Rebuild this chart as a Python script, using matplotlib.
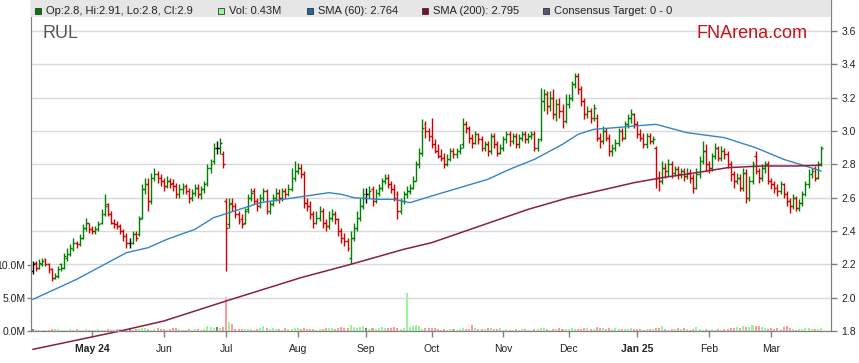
import matplotlib
matplotlib.use('Agg')
import matplotlib.pyplot as plt
from matplotlib.patches import Rectangle
import numpy as np
import pandas as pd

plt.rcParams['font.family'] = ['Liberation Sans', 'DejaVu Sans']

# RUL daily bars, one line per month (Apr 2024 .. Mar 2025)
opens = [
    2.16, 2.21, 2.18, 2.20, 2.23, 2.20, 2.17, 2.12, 2.13, 2.20, 2.18, 2.24, 2.26, 2.29, 2.33, 2.32, 2.36, 2.42, 2.45,
    2.41, 2.40, 2.41, 2.45, 2.50, 2.56, 2.50, 2.45, 2.44, 2.43, 2.40, 2.37, 2.33, 2.33, 2.38, 2.38, 2.48, 2.65, 2.68, 2.58, 2.72, 2.74, 2.72,
    2.70, 2.67, 2.70, 2.69, 2.67, 2.62, 2.65, 2.67, 2.64, 2.60, 2.63, 2.66, 2.62, 2.65, 2.69, 2.78, 2.82, 2.90, 2.90, 2.86,
    2.58, 2.44, 2.57, 2.55, 2.50, 2.47, 2.45, 2.53, 2.60, 2.64, 2.58, 2.55, 2.60, 2.64, 2.52, 2.56, 2.60, 2.63, 2.60, 2.64, 2.62, 2.65, 2.72,
    2.76, 2.78, 2.74, 2.57, 2.55, 2.50, 2.45, 2.48, 2.52, 2.45, 2.43, 2.48, 2.50, 2.47, 2.40, 2.36, 2.34, 2.24, 2.36, 2.42, 2.48, 2.55,
    2.60, 2.62, 2.65, 2.58, 2.63, 2.66, 2.70, 2.72, 2.68, 2.65, 2.62, 2.52, 2.58, 2.62, 2.64, 2.66, 2.70, 2.80, 2.87, 3.04, 3.00,
    2.97, 2.92, 2.88, 2.85, 2.84, 2.80, 2.83, 2.88, 2.86, 2.88, 2.92, 3.04, 3.02, 2.96, 2.93, 2.98, 2.95, 2.90, 2.92, 2.88, 2.97, 2.92, 2.87,
    2.90, 2.95, 2.98, 2.94, 2.97, 2.92, 2.96, 2.98, 2.95, 2.97, 2.98, 2.90, 2.95, 3.18, 3.22, 3.15, 3.20, 3.10, 3.16, 3.12, 3.06,
    3.16, 3.20, 3.28, 3.33, 3.25, 3.18, 3.10, 3.12, 3.08, 3.08, 2.96, 2.94, 3.00, 2.96, 2.88, 2.90, 2.93, 3.00, 2.96, 3.04, 3.08, 3.10,
    3.04, 2.98, 2.96, 2.92, 2.97, 2.94, 2.90, 2.72, 2.70, 2.78, 2.76, 2.80, 2.75, 2.77, 2.74, 2.76, 2.73, 2.75, 2.72, 2.66, 2.74, 2.82, 2.88,
    2.80, 2.78, 2.85, 2.90, 2.84, 2.88, 2.86, 2.80, 2.74, 2.70, 2.72, 2.66, 2.75, 2.60, 2.70, 2.85, 2.76, 2.72, 2.78, 2.80,
    2.70, 2.68, 2.66, 2.64, 2.68, 2.62, 2.58, 2.55, 2.60, 2.54, 2.57, 2.62, 2.68, 2.74, 2.78, 2.72, 2.80,
]
highs = [
    2.22, 2.22, 2.23, 2.24, 2.24, 2.21, 2.18, 2.15, 2.19, 2.21, 2.27, 2.30, 2.32, 2.36, 2.34, 2.38, 2.44, 2.48, 2.45,
    2.43, 2.43, 2.46, 2.53, 2.62, 2.57, 2.52, 2.47, 2.46, 2.44, 2.41, 2.39, 2.36, 2.40, 2.40, 2.49, 2.68, 2.72, 2.72, 2.75, 2.78, 2.76, 2.74,
    2.72, 2.73, 2.72, 2.71, 2.69, 2.68, 2.69, 2.68, 2.66, 2.65, 2.68, 2.68, 2.67, 2.70, 2.80, 2.83, 2.93, 2.94, 2.96, 2.88,
    2.60, 2.60, 2.60, 2.57, 2.52, 2.50, 2.54, 2.62, 2.66, 2.66, 2.60, 2.62, 2.66, 2.65, 2.58, 2.62, 2.66, 2.65, 2.66, 2.66, 2.68, 2.78, 2.82,
    2.81, 2.80, 2.76, 2.60, 2.58, 2.52, 2.52, 2.55, 2.54, 2.47, 2.52, 2.53, 2.52, 2.48, 2.42, 2.39, 2.36, 2.40, 2.45, 2.52, 2.60, 2.66,
    2.66, 2.67, 2.67, 2.65, 2.68, 2.72, 2.74, 2.74, 2.70, 2.68, 2.64, 2.60, 2.64, 2.67, 2.68, 2.73, 2.82, 2.90, 3.07, 3.06, 3.02,
    3.08, 2.95, 2.92, 2.89, 2.87, 2.86, 2.90, 2.90, 2.90, 2.92, 3.08, 3.06, 3.03, 2.98, 3.00, 2.99, 2.97, 2.94, 2.94, 2.99, 2.99, 2.94, 2.92,
    2.97, 3.00, 3.00, 2.99, 2.99, 2.98, 3.00, 3.00, 2.99, 3.00, 3.00, 2.96, 3.26, 3.25, 3.24, 3.24, 3.25, 3.19, 3.20, 3.16, 3.22,
    3.22, 3.30, 3.35, 3.35, 3.27, 3.20, 3.15, 3.14, 3.16, 3.10, 2.99, 3.03, 3.02, 2.98, 2.92, 2.95, 3.02, 3.02, 3.06, 3.10, 3.13, 3.11,
    3.06, 3.01, 2.99, 2.99, 2.99, 2.97, 2.91, 2.76, 2.82, 2.81, 2.83, 2.82, 2.79, 2.79, 2.78, 2.78, 2.78, 2.77, 2.74, 2.78, 2.85, 2.94, 2.92,
    2.82, 2.87, 2.93, 2.91, 2.91, 2.90, 2.88, 2.82, 2.76, 2.75, 2.74, 2.78, 2.77, 2.73, 2.82, 2.88, 2.78, 2.80, 2.82, 2.82,
    2.72, 2.70, 2.68, 2.70, 2.69, 2.64, 2.60, 2.62, 2.61, 2.59, 2.64, 2.70, 2.77, 2.78, 2.79, 2.82, 2.91,
]
lows = [
    2.14, 2.16, 2.17, 2.19, 2.19, 2.15, 2.10, 2.11, 2.12, 2.16, 2.17, 2.22, 2.25, 2.28, 2.30, 2.31, 2.35, 2.40, 2.39,
    2.38, 2.38, 2.40, 2.44, 2.49, 2.49, 2.44, 2.42, 2.41, 2.38, 2.34, 2.30, 2.30, 2.32, 2.34, 2.37, 2.47, 2.62, 2.52, 2.56, 2.70, 2.69, 2.67,
    2.64, 2.66, 2.66, 2.64, 2.60, 2.60, 2.62, 2.62, 2.57, 2.58, 2.61, 2.60, 2.59, 2.63, 2.67, 2.75, 2.80, 2.86, 2.86, 2.78,
    2.16, 2.42, 2.52, 2.48, 2.44, 2.42, 2.44, 2.51, 2.58, 2.56, 2.52, 2.54, 2.58, 2.50, 2.50, 2.55, 2.58, 2.57, 2.58, 2.60, 2.61, 2.64, 2.70,
    2.74, 2.72, 2.54, 2.52, 2.47, 2.42, 2.44, 2.46, 2.42, 2.40, 2.41, 2.46, 2.44, 2.37, 2.33, 2.31, 2.28, 2.20, 2.34, 2.40, 2.46, 2.53,
    2.57, 2.60, 2.55, 2.57, 2.61, 2.64, 2.68, 2.66, 2.63, 2.58, 2.47, 2.50, 2.56, 2.60, 2.62, 2.65, 2.70, 2.78, 2.85, 2.96, 2.94,
    2.90, 2.87, 2.84, 2.82, 2.78, 2.79, 2.82, 2.84, 2.84, 2.86, 2.90, 2.99, 2.93, 2.90, 2.92, 2.92, 2.88, 2.88, 2.85, 2.86, 2.90, 2.85, 2.86,
    2.88, 2.93, 2.91, 2.92, 2.90, 2.90, 2.94, 2.93, 2.93, 2.95, 2.88, 2.88, 2.94, 3.12, 3.10, 3.12, 3.07, 3.06, 3.08, 3.02, 3.05,
    3.14, 3.18, 3.26, 3.22, 3.15, 3.07, 3.08, 3.05, 3.06, 2.94, 2.90, 2.92, 2.94, 2.85, 2.85, 2.88, 2.91, 2.94, 2.95, 3.02, 3.05, 3.02,
    2.96, 2.94, 2.90, 2.90, 2.92, 2.92, 2.66, 2.64, 2.68, 2.72, 2.73, 2.72, 2.73, 2.71, 2.72, 2.70, 2.71, 2.69, 2.63, 2.65, 2.72, 2.80, 2.76,
    2.75, 2.76, 2.83, 2.82, 2.82, 2.83, 2.78, 2.70, 2.66, 2.68, 2.64, 2.64, 2.57, 2.58, 2.68, 2.74, 2.69, 2.70, 2.75, 2.68,
    2.65, 2.63, 2.61, 2.62, 2.60, 2.55, 2.51, 2.53, 2.52, 2.52, 2.55, 2.61, 2.66, 2.72, 2.70, 2.71, 2.79,
]
closes = [
    2.20, 2.18, 2.21, 2.22, 2.20, 2.17, 2.12, 2.13, 2.17, 2.18, 2.25, 2.26, 2.30, 2.33, 2.32, 2.36, 2.42, 2.45, 2.41,
    2.40, 2.41, 2.44, 2.50, 2.55, 2.50, 2.45, 2.44, 2.43, 2.40, 2.37, 2.33, 2.33, 2.38, 2.36, 2.47, 2.65, 2.68, 2.58, 2.72, 2.74, 2.72, 2.70,
    2.67, 2.70, 2.68, 2.67, 2.62, 2.65, 2.66, 2.64, 2.60, 2.63, 2.66, 2.62, 2.65, 2.68, 2.78, 2.80, 2.90, 2.90, 2.93, 2.80,
    2.42, 2.56, 2.55, 2.50, 2.46, 2.44, 2.52, 2.60, 2.63, 2.58, 2.55, 2.60, 2.64, 2.52, 2.56, 2.60, 2.63, 2.60, 2.64, 2.62, 2.65, 2.72, 2.76,
    2.78, 2.74, 2.57, 2.55, 2.50, 2.45, 2.48, 2.52, 2.45, 2.43, 2.48, 2.50, 2.47, 2.40, 2.36, 2.34, 2.30, 2.36, 2.42, 2.48, 2.55, 2.62,
    2.62, 2.64, 2.58, 2.63, 2.66, 2.70, 2.72, 2.68, 2.65, 2.60, 2.52, 2.58, 2.62, 2.64, 2.66, 2.70, 2.80, 2.87, 3.02, 3.00, 2.97,
    2.92, 2.88, 2.85, 2.84, 2.80, 2.83, 2.88, 2.86, 2.88, 2.90, 3.04, 3.02, 2.96, 2.93, 2.98, 2.95, 2.90, 2.92, 2.88, 2.97, 2.92, 2.87, 2.90,
    2.95, 2.98, 2.94, 2.97, 2.92, 2.96, 2.98, 2.95, 2.97, 2.98, 2.90, 2.94, 3.18, 3.22, 3.15, 3.20, 3.10, 3.16, 3.12, 3.06, 3.16,
    3.20, 3.28, 3.33, 3.25, 3.18, 3.10, 3.12, 3.08, 3.14, 2.96, 2.94, 3.00, 2.96, 2.88, 2.90, 2.93, 3.00, 2.96, 3.04, 3.08, 3.10, 3.04,
    2.98, 2.96, 2.92, 2.97, 2.94, 2.95, 2.72, 2.70, 2.78, 2.76, 2.80, 2.75, 2.77, 2.74, 2.76, 2.73, 2.75, 2.72, 2.66, 2.74, 2.82, 2.88, 2.80,
    2.78, 2.85, 2.90, 2.84, 2.88, 2.86, 2.80, 2.74, 2.70, 2.72, 2.66, 2.75, 2.60, 2.70, 2.80, 2.76, 2.72, 2.78, 2.80, 2.70,
    2.68, 2.66, 2.64, 2.68, 2.62, 2.58, 2.55, 2.60, 2.54, 2.57, 2.62, 2.68, 2.74, 2.76, 2.72, 2.80, 2.90,
]
# volume in millions
volume = [
    0.25, 0.15, 0.2, 0.15, 0.2, 0.15, 0.3, 0.35, 0.3, 0.15, 0.2, 0.15, 0.35, 0.2, 0.25, 0.2, 0.15, 0.3, 0.2,
    0.2, 0.15, 0.3, 0.2, 0.15, 0.25, 0.2, 0.15, 0.3, 0.25, 0.2, 0.3, 0.25, 0.2, 0.3, 0.35, 0.5, 0.45, 0.3, 0.2, 0.25, 0.4, 0.35,
    0.3, 0.2, 0.25, 0.5, 0.4, 0.3, 0.2, 0.15, 0.25, 0.2, 0.3, 0.25, 0.2, 0.3, 0.75, 0.6, 0.5, 0.55, 0.45, 0.6,
    5.1, 1.4, 1.1, 0.3, 0.3, 0.35, 0.3, 0.25, 0.3, 0.2, 0.3, 0.45, 0.8, 0.5, 0.3, 0.4, 0.25, 0.3, 0.2, 0.5, 0.35, 0.3, 0.45,
    0.4, 0.3, 0.5, 0.3, 0.25, 0.3, 0.2, 0.35, 0.3, 0.4, 0.5, 0.4, 0.3, 0.5, 0.6, 0.5, 0.4, 0.9, 0.6, 0.5, 0.6, 0.7,
    0.5, 0.3, 0.4, 0.3, 0.4, 0.6, 0.5, 0.5, 0.4, 0.6, 0.5, 0.35, 0.5, 5.7, 0.6, 0.8, 0.9, 0.8, 0.3, 0.5, 0.45,
    0.45, 0.5, 0.3, 0.2, 0.3, 0.2, 0.35, 0.3, 0.2, 0.25, 0.4, 0.35, 0.3, 0.9, 0.4, 0.3, 0.35, 0.3, 0.4, 0.45, 0.3, 0.3, 0.4,
    0.2, 0.3, 0.2, 0.15, 0.25, 0.2, 0.3, 0.25, 0.2, 0.2, 0.3, 0.25, 0.45, 0.4, 0.3, 0.2, 0.3, 0.25, 0.4, 0.35, 0.3,
    0.3, 0.45, 0.3, 0.35, 0.25, 0.4, 0.45, 0.3, 0.35, 0.65, 0.5, 0.4, 0.3, 0.4, 0.35, 0.5, 0.3, 0.35, 0.25, 0.3, 0.4, 0.3,
    0.25, 0.3, 0.2, 0.3, 0.3, 0.25, 0.5, 0.45, 0.75, 0.25, 0.2, 0.3, 0.35, 0.4, 0.3, 0.4, 0.35, 0.2, 0.3, 0.65, 0.3, 0.2, 0.25,
    0.2, 0.25, 0.2, 0.3, 0.2, 0.25, 0.3, 0.4, 0.5, 0.6, 0.5, 0.7, 0.55, 0.6, 0.95, 0.8, 0.75, 0.6, 0.4, 0.35,
    0.4, 0.3, 0.5, 0.35, 0.6, 0.75, 0.5, 0.3, 0.2, 0.25, 0.3, 0.4, 0.45, 0.35, 0.3, 0.35, 0.43,
]

# moving averages (trading-day index, value)
sma60_idx = [0, 14, 19, 30, 37, 43, 52, 58, 63, 73, 84, 95, 99, 103, 111, 116, 121, 128, 137, 146,
             153, 161, 170, 175, 180, 187, 193, 200, 210, 222, 232, 241, 248, 253]
sma60_val = [1.99, 2.11, 2.16, 2.27, 2.30, 2.35, 2.41, 2.48, 2.51, 2.57, 2.60, 2.63, 2.62, 2.60, 2.59, 2.59,
             2.57, 2.61, 2.66, 2.71, 2.77, 2.83, 2.92, 2.98, 3.01, 3.02, 3.03, 3.04, 2.99, 2.96, 2.90, 2.83, 2.79, 2.76]
sma200_idx = [0, 28, 42, 62, 86, 102, 119, 128, 159, 172, 193, 202, 213, 223, 234, 245, 253]
sma200_val = [1.69, 1.80, 1.86, 1.98, 2.12, 2.20, 2.29, 2.33, 2.53, 2.60, 2.69, 2.72, 2.75, 2.78, 2.79, 2.79, 2.795]

W, H = 859, 363
opens, highs, lows, closes, volume = map(np.array, (opens, highs, lows, closes, volume))
n = len(closes)
x = np.arange(n)
dates = pd.bdate_range('2024-04-04', periods=n)

prev = np.r_[np.nan, closes[:-1]]
bar_col = np.where(closes > prev, '#008000', np.where(closes < prev, '#d40000', '#000000'))
vol_col = np.where(closes > prev, '#99f599', np.where(closes < prev, '#ff9a9a', '#808080'))

fig = plt.figure(figsize=(W / 100, H / 100), dpi=100)
ax_v = fig.add_axes([31 / W, 32 / H, 800 / W, 331 / H])
ax_p = ax_v.twinx()

ax_v.bar(x, volume, width=0.65, color=vol_col, linewidth=0)
ax_v.set_ylim(0, 331 / 6.6)
ax_v.set_yticks([0, 5, 10])
ax_v.set_yticklabels(['0.0M', '5.0M', '10.0M'])

# OHLC bars
ax_p.vlines(x, lows, highs, colors=bar_col, lw=1.0)
ax_p.hlines(opens, x - 0.6, x, colors=bar_col, lw=1.0)
ax_p.hlines(closes, x, x + 0.6, colors=bar_col, lw=1.0)

ax_p.plot(sma60_idx, sma60_val, color='#3584c6', lw=1.0)
ax_p.plot(sma200_idx, sma200_val, color='#8a1f44', lw=1.1, clip_on=False)

ax_p.set_ylim(1.8, 1.8 + 331 * 0.006)
ax_p.set_yticks(np.arange(1.8, 3.61, 0.2))
ax_p.yaxis.set_major_formatter(plt.FuncFormatter(lambda v, p: f'{v:.1f}'))
ax_v.set_xlim(-0.64, 256.2)

# month ticks
mon = dates.to_period('M')
starts = np.where(np.r_[False, mon[1:] != mon[:-1]])[0]
labels = [dates[i].strftime('%b %y') if (dates[i].month == 1 or k == 0) else dates[i].strftime('%b')
          for k, i in enumerate(starts)]
ax_v.set_xticks(starts)
ax_v.set_xticklabels(labels)
for t in ax_v.get_xticklabels():
    if ' ' in t.get_text():
        t.set_fontweight('bold')

ax_p.grid(True, color='#d9d9d9', lw=1.0)
ax_p.set_axisbelow(True)
for ax in (ax_v, ax_p):
    for s in ax.spines.values():
        s.set_color('#808080')
    ax.tick_params(colors='#808080', labelcolor='#222222', labelsize=7.5, length=4, width=1)
ax_p.tick_params(axis='x', length=0)
ax_v.tick_params(axis='x', pad=5)
ax_v.tick_params(axis='y', length=3, pad=1)

# legend band
fig.add_artist(Rectangle((31 / W, 1 - 17 / H), 800 / W, 17 / H, transform=fig.transFigure,
                         fc='#e6e6e6', ec='none', zorder=1))
items = [(35, '#007a00', 'Op:2.8, Hi:2.91, Lo:2.8, Cl:2.9'),
         (218, '#99f599', 'Vol: 0.43M'),
         (307, '#1f66a8', 'SMA (60): 2.764'),
         (422, '#7a1030', 'SMA (200): 2.795'),
         (543, '#555577', 'Consensus Target: 0 - 0')]
for px, c, txt in items:
    fig.add_artist(Rectangle((px / W, 1 - 14 / H), 6 / W, 6 / H, transform=fig.transFigure,
                             fc=c, ec='#333333', lw=0.6, zorder=5))
    fig.text((px + 11) / W, 1 - 11 / H, txt, fontsize=8, color='#222222', va='center', zorder=5)

fig.text(43 / W, 1 - 33 / H, 'RUL', fontsize=13, color='#555555', va='center')
fig.text(807 / W, 1 - 33 / H, 'FNArena.com', fontsize=13, color='#c4141b', va='center', ha='right')

fig.savefig('out.png', dpi=100)
